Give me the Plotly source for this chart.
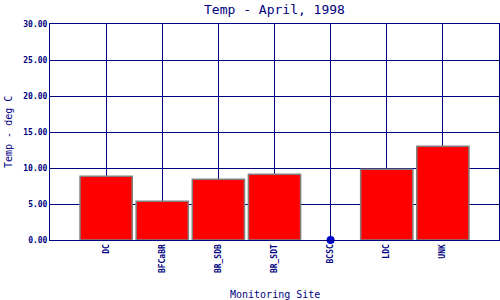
import plotly.graph_objects as go

sites = ["DC", "BFCaBR", "BR_SDB", "BR_SDT", "BCSC", "LDC", "UNK"]
temps = [8.85, 5.37, 8.43, 9.12, 0.0, 9.82, 13.01]
y_ticks = [0, 5, 10, 15, 20, 25, 30]
y_tick_labels = ["0.00", "5.00", "10.00", "15.00", "20.00", "25.00", "30.00"]

NAVY = "#000080"
FONT = "DejaVu Sans Mono"

fig = go.Figure()
fig.add_trace(go.Bar(
    x=sites, y=temps, width=0.93,
    marker=dict(color="#FF0000",
                line=dict(color="#808080", width=[1.5 if v > 0 else 0 for v in temps])),
))
zero_sites = [s for s, v in zip(sites, temps) if v == 0]
zero_vals = [v for v in temps if v == 0]
fig.add_trace(go.Scatter(
    x=zero_sites, y=zero_vals, mode="markers",
    marker=dict(color="#0000CC", size=8), cliponaxis=False,
))

fig.update_layout(
    width=500, height=300,
    margin=dict(l=50, r=1, t=24, b=60),
    paper_bgcolor="white", plot_bgcolor="white",
    showlegend=False,
    font=dict(family=FONT, color=NAVY),
    title=dict(text="Temp - April, 1998", x=0.5, xref="paper", y=1 - 9 / 300, yref="container",
               xanchor="center", yanchor="middle",
               font=dict(family=FONT, size=13, color=NAVY)),
    xaxis=dict(
        range=[-1, 7], showgrid=True, gridcolor=NAVY, gridwidth=1,
        showline=True, linecolor=NAVY, linewidth=1, mirror=True,
        tickangle=-90, tickfont=dict(family=FONT, size=8, color=NAVY, weight="bold"),
        ticks="", ticklen=0, automargin=False,
    ),
    yaxis=dict(
        range=[0, 30], tickvals=y_ticks, ticktext=y_tick_labels,
        showgrid=True, gridcolor=NAVY, gridwidth=1, zeroline=False,
        showline=True, linecolor=NAVY, linewidth=1, mirror=True,
        tickfont=dict(family=FONT, size=8, color=NAVY, weight="bold"),
        ticks="", ticklen=0, automargin=False,
    ),
    annotations=[
        dict(text="Monitoring Site", xref="paper", yref="paper", x=0.5, y=-(294 - 240) / 216,
             xanchor="center", yanchor="middle", showarrow=False,
             font=dict(family=FONT, size=10, color=NAVY)),
        dict(text="Temp - deg C", xref="paper", yref="paper", x=-(50 - 8) / 449, y=0.5,
             xanchor="center", yanchor="middle", showarrow=False, textangle=-90,
             font=dict(family=FONT, size=10, color=NAVY)),
    ],
)

fig.write_html("out.html")
